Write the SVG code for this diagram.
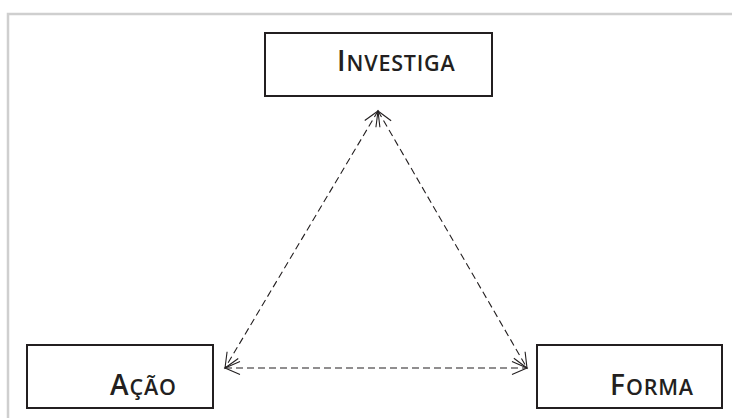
<svg xmlns="http://www.w3.org/2000/svg" width="732" height="418" viewBox="0 0 732 418">
<style>
.frame{stroke:#cfcfcf;stroke-width:2.5;fill:none}
.box{fill:#fff;stroke:#231f20;stroke-width:2}
.lbl{font-family:"Open Sans","Liberation Sans",sans-serif;font-weight:600;fill:#231f20;font-size:28px;letter-spacing:1px}
.sc{font-size:21.5px;letter-spacing:0.8px}
.conn{stroke:#231f20;stroke-width:1.1;fill:none;stroke-dasharray:7 4}
</style>
<defs>
<marker id="arr" viewBox="-16 -8 18 16" refX="0" refY="0" markerWidth="18" markerHeight="16" markerUnits="userSpaceOnUse" orient="auto-start-reverse">
<path d="M-15,-6.5 L0,0 L-15,6.5" fill="none" stroke="#231f20" stroke-width="1.1"/>
</marker>
</defs>
<path class="frame" d="M8,418 V14 H732"/>
<g id="connectors">
<line class="conn" x1="378" y1="111" x2="225" y2="368" marker-start="url(#arr)" marker-end="url(#arr)"/>
<line class="conn" x1="378" y1="111" x2="527" y2="368" marker-start="url(#arr)" marker-end="url(#arr)"/>
<line class="conn" x1="225" y1="368" x2="527" y2="368" marker-start="url(#arr)" marker-end="url(#arr)"/>
</g>
<g id="investiga">
<rect class="box" x="265" y="33" width="227" height="63"/>
<text class="lbl" x="337" y="71">I<tspan class="sc">NVESTIGA</tspan></text>
</g>
<g id="acao">
<rect class="box" x="27" y="345" width="186" height="63"/>
<text class="lbl" x="110" y="395">A<tspan class="sc">ÇÃO</tspan></text>
</g>
<g id="forma">
<rect class="box" x="537" y="345" width="185" height="63"/>
<text class="lbl" x="610" y="395">F<tspan class="sc">ORMA</tspan></text>
</g>
</svg>
